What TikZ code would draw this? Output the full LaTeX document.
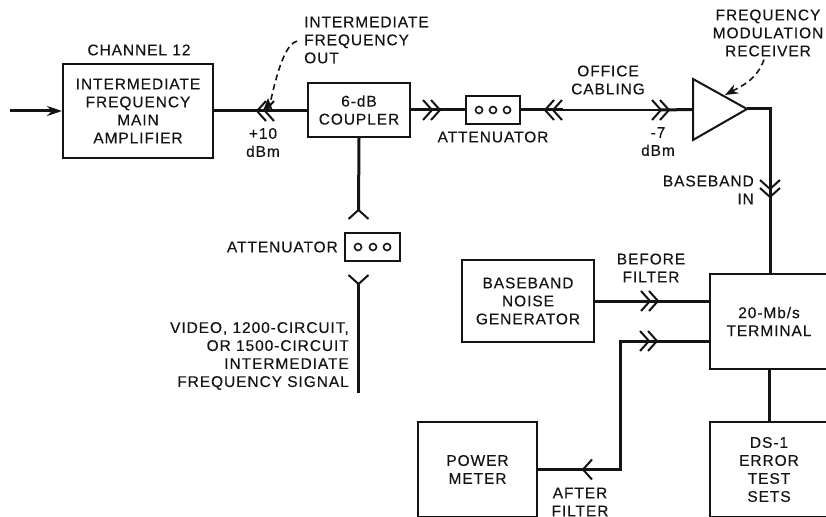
\documentclass[tikz,border=0pt]{standalone}
\usepackage{fontspec}
\setmainfont[LetterSpace=6,FakeBold=0.25]{Liberation Sans}
\usetikzlibrary{arrows.meta}
\definecolor{inkBlack}{RGB}{20, 20, 20}
\tikzset{
  blk/.style={draw=inkBlack, line width=2pt, inner sep=0pt, align=center},
  lbl/.style={inner sep=0pt, align=center},
  sig/.style={draw=inkBlack, line width=3pt},
  thinsig/.style={draw=inkBlack, line width=1.8pt},
  pointer/.style={draw=inkBlack, line width=1.6pt, dash pattern=on 6pt off 4pt, -{Stealth[length=13pt,width=10pt]}},
  chevone/.pic={\draw[inkBlack, line width=2pt] (-9,-10) -- (0,0) -- (-9,10);},
  chevtwo/.pic={\draw[inkBlack, line width=2pt] (-9,-10) -- (0,0) -- (-9,10);
    \draw[inkBlack, line width=2pt] (-17,-10) -- (-8,0) -- (-17,10);}
}
\begin{document}
\begin{tikzpicture}[x=1pt, y=-1pt, font=\fontsize{15.5}{18}\selectfont, text=inkBlack]
        \path[use as bounding box, clip] (0,0) rectangle (826,516);
        % blocks
        \node[blk, minimum width=150, minimum height=94] (amp) at (138,111) {INTERMEDIATE\\FREQUENCY\\MAIN\\AMPLIFIER};
        \node[blk, minimum width=102, minimum height=54] (coupler) at (359,110) {6-dB\\COUPLER};
        \node[blk, minimum width=54, minimum height=27] (attA) at (493,110) {};
        \node[blk, minimum width=55, minimum height=28] (attB) at (372.5,247) {};
        \node[blk, minimum width=132, minimum height=82] (noise) at (528,301) {BASEBAND\\NOISE\\GENERATOR};
        \node[blk, minimum width=118, minimum height=95] (terminal) at (769,321.5) {20-Mb/s\\TERMINAL};
        \node[blk, minimum width=118, minimum height=95] (errsets) at (769,469.5) {DS-1\\ERROR\\TEST\\SETS};
        \node[blk, minimum width=119, minimum height=95] (meter) at (477.5,469.5) {POWER\\METER};
        % labels
        \node[lbl] (chlbl) at (139,50) {CHANNEL 12};
        \node[lbl, align=left, anchor=west] (ifoutlbl) at (304,40) {INTERMEDIATE\\FREQUENCY\\OUT};
        \node[lbl] (pluslbl) at (263,142.5) {+10\\dBm};
        \node[lbl] (attAlbl) at (493,137) {ATTENUATOR};
        \node[lbl] (officelbl) at (608,80) {OFFICE\\CABLING};
        \node[lbl] (minuslbl) at (658,141.5) {-7\\dBm};
        \node[lbl] (fmrlbl) at (768,33) {FREQUENCY\\MODULATION\\RECEIVER};
        \node[lbl, align=right, anchor=east] (bbinlbl) at (754,190) {BASEBAND\\IN};
        \node[lbl] (beforelbl) at (651,268) {BEFORE\\FILTER};
        \node[lbl] (afterlbl) at (580,502) {AFTER\\FILTER};
        \node[lbl, anchor=east] (attBlbl) at (338,247) {ATTENUATOR};
        \node[lbl, align=right, anchor=east] (videolbl) at (349,356) {VIDEO, 1200-CIRCUIT,\\OR 1500-CIRCUIT\\INTERMEDIATE\\FREQUENCY SIGNAL};
        % end points
        \coordinate (input) at (10,111);
        \coordinate (rxa) at (693,79);
        \coordinate (rxb) at (693,140);
        \coordinate (rxout) at (747,109);
        \coordinate (rxtip) at (725,95);
        \coordinate (ifouttip) at (268,98);
        \coordinate (cornerA) at (770,109);
        \coordinate (termtop) at (770,274);
        \coordinate (termin) at (710,301);
        \coordinate (termout) at (710,341);
        \coordinate (cornerB) at (620,341);
        \coordinate (cornerC) at (620,469.5);
        \coordinate (upY) at (358.5,210);
        \coordinate (downY) at (358.5,284);
        \coordinate (sigend) at (358.5,393);
        \coordinate (rxin) at (693,109.5);
        % receiver
        \draw[inkBlack, line width=2pt] (rxa) -- (rxb) -- (rxout) -- cycle;
        % connectors
        \draw[sig, -{Stealth[length=15pt,width=10pt]}] (input) -- (amp.west);
        \draw[sig] (amp.east) -- (coupler.west |- amp.east);
        \draw[sig] (coupler.east) -- (attA.west);
        \draw[sig] (attA.east) -- (563,110);
        \draw[thinsig] (563,110) -- (660,110);
        \draw[sig] (660,110) -- (rxin);
        \draw[sig] (rxout) -- (cornerA) -- (termtop);
        \draw[sig] (coupler.south) -- (upY);
        \draw[sig] (downY) -- (sigend);
        \draw[sig] (noise.east) -- (termin);
        \draw[sig] (termout) -- (cornerB) -- (cornerC) -- (meter.east);
        \draw[sig] (terminal.south) -- (errsets.north);
        % dashed pointers
        \draw[pointer, shorten <=7pt] (ifoutlbl.west) to[out=190, in=-90] (ifouttip);
        \draw[pointer] (fmrlbl.south) ++(-4,3) to[out=-110, in=28] (rxtip);
        % connector marks
        \pic[rotate=180] at (257,111) {chevtwo};
        \pic at (440,110) {chevtwo};
        \pic[rotate=180] at (545,110) {chevtwo};
        \pic at (669,110) {chevtwo};
        \pic[rotate=-90] at (770,197) {chevtwo};
        \pic at (658,301) {chevtwo};
        \pic at (657,341) {chevtwo};
        \pic[rotate=180] at (583,469.5) {chevone};
        \pic[rotate=90] at (upY) {chevone};
        \pic[rotate=-90] at (downY) {chevone};
        % attenuator dots
        \foreach \cx in {479,493,507}
          \draw[inkBlack, line width=1.6pt] (\cx,110) circle (3.5);
        \foreach \cx in {358,373,387}
          \draw[inkBlack, line width=1.6pt] (\cx,247) circle (3.5);
      \end{tikzpicture}
\end{document}
